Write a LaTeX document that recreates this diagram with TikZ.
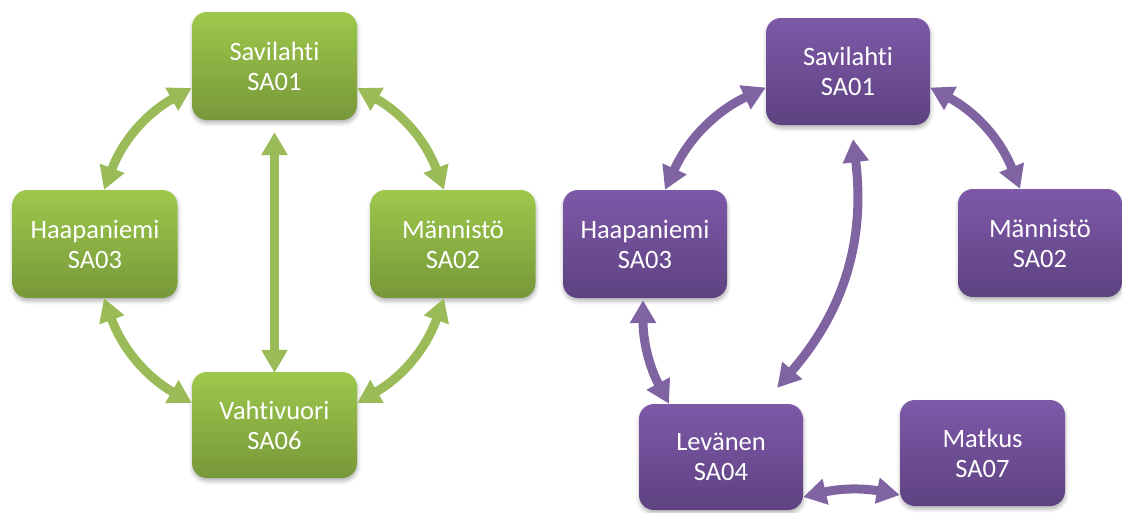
\documentclass[tikz,border=0pt]{standalone}
\usepackage{fontspec}
\setmainfont{Carlito}[Ligatures={CommonOff,ContextualOff}]
\usetikzlibrary{arrows.meta,shadows.blur}

\definecolor{gtop}{HTML}{9DC84B}
\definecolor{gbot}{HTML}{77983A}
\definecolor{garrow}{HTML}{9BBB59}
\definecolor{ptop}{HTML}{7D59A8}
\definecolor{pbot}{HTML}{5E4281}
\definecolor{parrow}{HTML}{8064A2}

\tikzset{
  site/.style={rounded corners=15pt, minimum width=165pt, minimum height=108pt,
    align=center, text=white, font=\fontsize{26.5}{30}\selectfont,
    blur shadow={shadow xshift=0.5pt, shadow yshift=-3pt, shadow blur radius=4pt, shadow opacity=30}},
  greensite/.style={site, top color=gtop, bottom color=gbot},
  purplesite/.style={site, top color=ptop, bottom color=pbot},
  link/.style={line width=9pt, {Triangle[width=25pt,length=23pt]}-{Triangle[width=25pt,length=23pt]}},
  glink/.style={link, draw=garrow},
  plink/.style={link, draw=parrow},
}

\begin{document}
\begin{tikzpicture}[x=1pt, y=-1pt]
\useasboundingbox (0,0) rectangle (1122,512);

% left network
\node[greensite] (gs) at (274.5,66) {Savilahti\\SA01};
\node[greensite] (gh) at (95,244) {Haapaniemi\\SA03};
\node[greensite] (gm) at (453,244) {Männistö\\SA02};
\node[greensite, minimum height=106pt] (gv) at (274.5,425) {Vahtivuori\\SA06};

\draw[glink] ([yshift=-22pt]gs.west) to[bend right=20] ([xshift=9pt]gh.north);
\draw[glink] ([yshift=-22pt]gs.east) to[bend left=20] ([xshift=-9pt]gm.north);
\draw[glink] ([xshift=9pt]gh.south) to[bend right=20] ([yshift=22pt]gv.west);
\draw[glink] ([xshift=-9pt]gm.south) to[bend left=20] ([yshift=22pt]gv.east);
\draw[glink] ([yshift=-12pt]gs.south) -- ([yshift=-1pt]gv.north);

% right network
\node[purplesite, minimum width=164pt, minimum height=107pt] (ps) at (848,71.5) {Savilahti\\SA01};
\node[purplesite, minimum width=164pt] (ph) at (645,244) {Haapaniemi\\SA03};
\node[purplesite, minimum width=164pt] (pm) at (1040,243) {Männistö\\SA02};
\node[purplesite, minimum width=164pt, minimum height=106pt] (pl) at (721,457) {Levänen\\SA04};
\node[purplesite, minimum height=106pt] (pk) at (982.5,453) {Matkus\\SA07};

\draw[plink] ([yshift=-16pt]ps.west) to[bend right=20] ([xshift=20pt]ph.north);
\draw[plink] ([yshift=-16pt]ps.east) to[bend left=20] ([xshift=-20pt]pm.north);
\draw[plink] ([xshift=5pt,yshift=-14pt]ps.south) to[bend left=24] ([xshift=-26pt,yshift=16pt]pl.north east);
\draw[plink] ([xshift=-2pt,yshift=-2pt]ph.south) to[bend right=14] ([xshift=-52pt]pl.north);
\draw[plink] ([yshift=-40pt]pl.east) to[bend left=12] ([yshift=-42pt]pk.west);
\end{tikzpicture}
\end{document}
